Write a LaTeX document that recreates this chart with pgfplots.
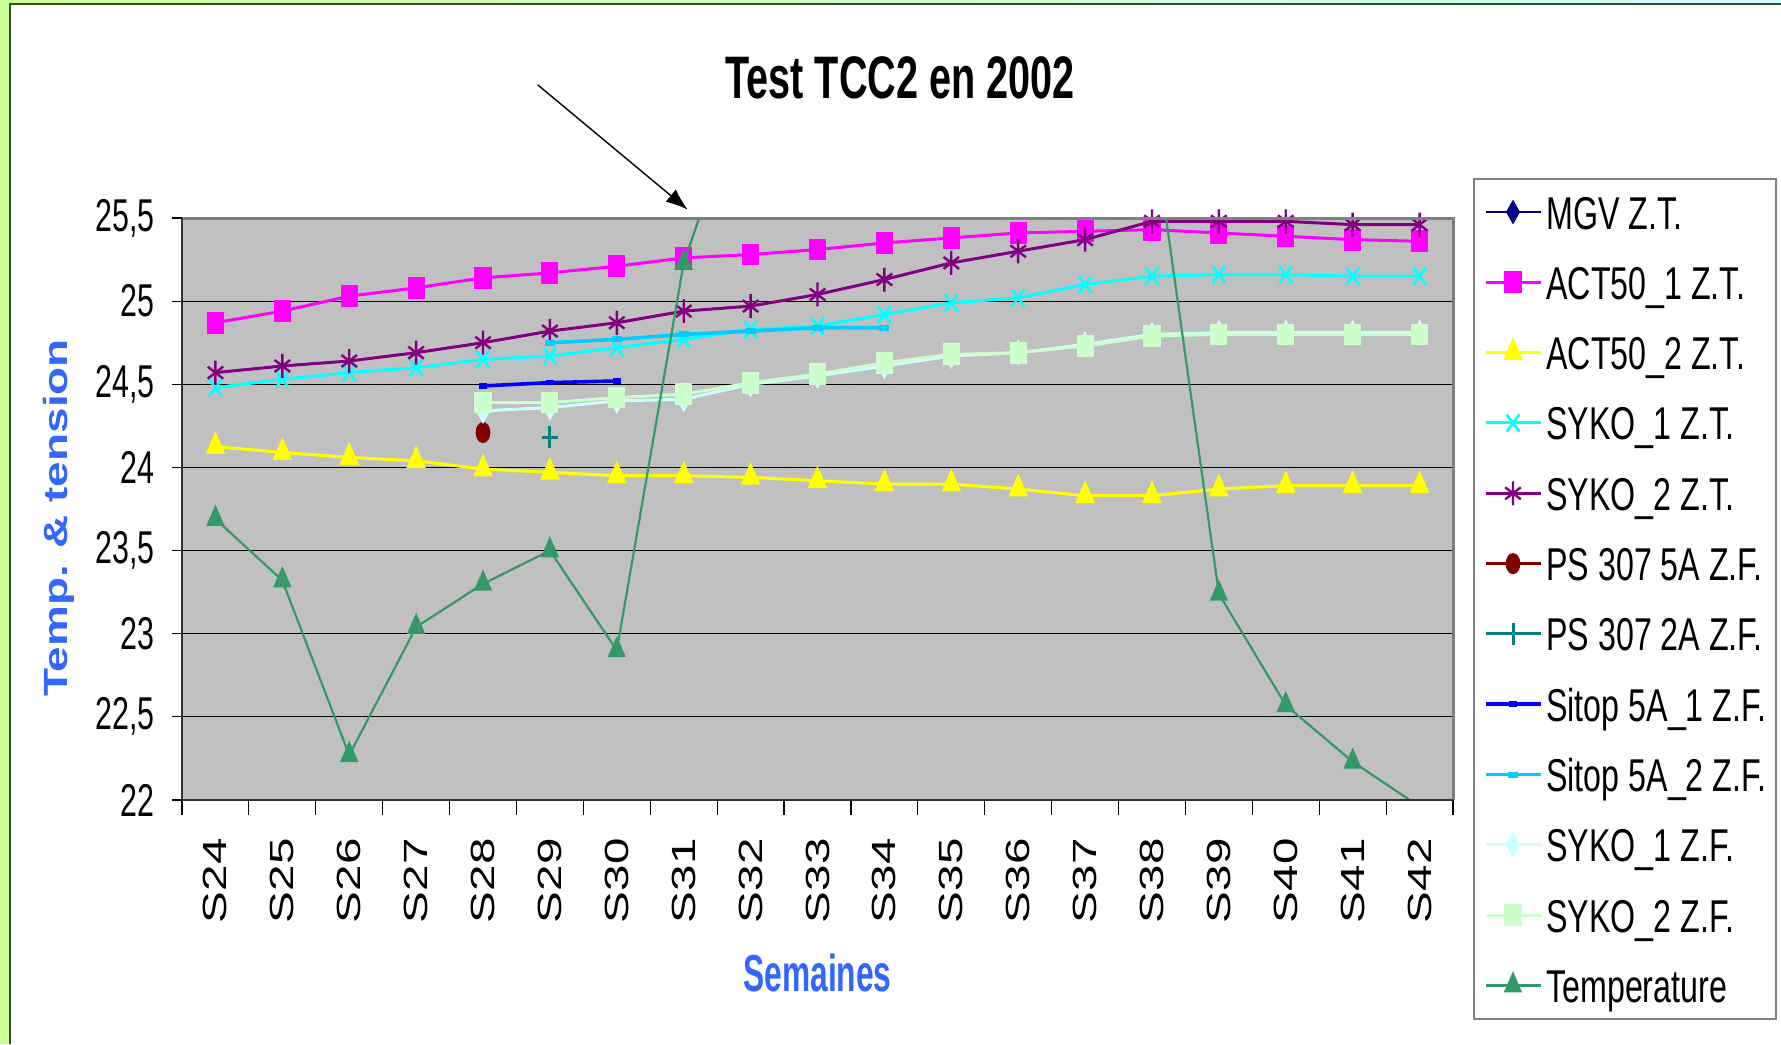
\documentclass[border=0pt]{standalone}
\usepackage{pgfplots}
\pgfplotsset{compat=1.18}
\usetikzlibrary{arrows.meta}
\usepackage{fontspec}
\setmainfont{Liberation Sans}
\newfontfamily\narrowfont[FakeStretch=0.66]{Liberation Sans}
\newfontfamily\legfont[FakeStretch=0.70]{Liberation Sans}
\newfontfamily\xlabfont[FakeStretch=0.61]{Liberation Sans}
\newfontfamily\widefont[FakeStretch=1.42]{Liberation Sans}
\newfontfamily\ylabfont[FakeStretch=1.37]{Liberation Sans}
\definecolor{bggray}{HTML}{C0C0C0}
\definecolor{framegray}{HTML}{808080}
\definecolor{labelblue}{HTML}{3366FF}
\definecolor{navyc}{HTML}{000080}
\definecolor{magc}{HTML}{FF00FF}
\definecolor{yelc}{HTML}{FFFF00}
\definecolor{cyanc}{HTML}{00FFFF}
\definecolor{purc}{HTML}{800080}
\definecolor{darkredc}{HTML}{800000}
\definecolor{tealc}{HTML}{008080}
\definecolor{bluec}{HTML}{0000FF}
\definecolor{skyc}{HTML}{00CCFF}
\definecolor{lcyanc}{HTML}{CCFFFF}
\definecolor{lgreenc}{HTML}{CCFFCC}
\definecolor{seagreenc}{HTML}{339966}
\definecolor{bordergreen}{HTML}{CCFF99}
\definecolor{bordercyan}{HTML}{CCFFFF}
\definecolor{bordline}{HTML}{3A4A2A}
\begin{document}
\begin{tikzpicture}
\useasboundingbox (-91pt,-122pt) rectangle (799.5pt,400pt);
\fill[white] (-91pt,-122pt) rectangle (799.5pt,400pt);
\fill[bordergreen] (-91pt,-122pt) rectangle (-86pt,400pt);
\shade[left color=bordergreen, right color=bordercyan] (-91pt,397.5pt) rectangle (799.5pt,400pt);
\fill[bordergreen] (-91pt,397.5pt) rectangle (-86pt,400pt);
\draw[line width=1pt, bordline] (-85.75pt,-122pt) -- (-85.75pt,397.75pt) -- (799.5pt,397.75pt);
\begin{axis}[
  at={(0pt,0pt)}, anchor=south west,
  scale only axis, width=635.5pt, height=291pt,
  xmin=-0.5, xmax=18.5, ymin=22, ymax=25.5,
  clip mode=individual,
  axis background/.style={fill=bggray},
  axis line style={draw=none},
  ytick={22,22.5,23,23.5,24,24.5,25,25.5},
  ymajorgrids, grid style={black, line width=0.6pt},
  tick align=outside, tick pos=left,
  major tick length=5pt, minor tick length=7.5pt,
  tick style={black, line width=0.6pt},
  xtick={0,...,18},
  xticklabels={S24,S25,S26,S27,S28,S29,S30,S31,S32,S33,S34,S35,S36,S37,S38,S39,S40,S41,S42},
  every major x tick/.append style={draw=none},
  minor xtick={-0.5,0.5,...,18.5},
  xticklabel style={rotate=90, anchor=east, inner sep=0pt, font=\widefont\fontsize{16.75}{17}\selectfont},
  xticklabel shift=14pt,
  yticklabel style={inner sep=0pt, font=\narrowfont\fontsize{23}{23}\selectfont},
  yticklabel shift=8.5pt,
  /pgf/number format/use comma,
  /pgf/number format/assume math mode=true,
  title={Test TCC2 en 2002},
  title style={at={(rel axis cs:0.565,1.22)}, anchor=center, inner sep=0pt, font=\narrowfont\bfseries\fontsize{30}{30}\selectfont},
  xlabel={Semaines},
  xlabel style={at={(rel axis cs:0.5,-0.297)}, anchor=center, inner sep=0pt, text=labelblue, font=\xlabfont\bfseries\fontsize{26}{26}\selectfont},
  ylabel={Temp. \& tension},
  ylabel style={at={(rel axis cs:-0.0968,0.4845)}, anchor=center, inner sep=0pt, rotate=0, text=labelblue, font=\ylabfont\bfseries\fontsize{16.75}{17}\selectfont},
  legend style={at={(rel axis cs:1.0155,1.0687)}, anchor=north west, draw=framegray, line width=1pt, fill=white,
    inner xsep=5pt, inner ysep=8pt, row sep=18.16pt, column sep=2pt,
    font=\legfont\fontsize{23}{23}\selectfont,
    nodes={inner sep=0pt, text height=17pt, text depth=0pt},
    cells={anchor=west}},
  legend image code/.code={\draw[mark repeat=2, mark phase=2] plot coordinates {(0pt,0pt) (13.75pt,0pt) (27.5pt,0pt)};},
]
\addlegendimage{navyc, line width=1.2pt, mark=diamond*, mark size=5pt, mark options={xscale=0.75}}
\addlegendentry{MGV Z.T.}
\addplot[magc, line width=1.5pt, mark=square*, mark size=4.7pt, mark options={xscale=0.75}] coordinates {
(0,24.87) (1,24.94) (2,25.03) (3,25.08) (4,25.14) (5,25.17) (6,25.21) (7,25.26) (8,25.28) (9,25.31)
(10,25.35) (11,25.38) (12,25.41) (13,25.42) (14,25.43) (15,25.41) (16,25.39) (17,25.37) (18,25.36)};
\addlegendentry{ACT50\_1 Z.T.}
\addplot[yelc, line width=1.5pt, mark=triangle*, mark size=5.8pt, mark options={xscale=0.75}] coordinates {
(0,24.125) (1,24.09) (2,24.06) (3,24.04) (4,23.99) (5,23.97) (6,23.95) (7,23.95) (8,23.94) (9,23.92)
(10,23.90) (11,23.90) (12,23.87) (13,23.83) (14,23.83) (15,23.87) (16,23.89) (17,23.89) (18,23.89)};
\addlegendentry{ACT50\_2 Z.T.}
\addplot[cyanc, line width=1.5pt, mark=x, mark size=6pt, mark options={xscale=0.75, line width=1.3pt}] coordinates {
(0,24.48) (1,24.53) (2,24.57) (3,24.60) (4,24.65) (5,24.67) (6,24.72) (7,24.77) (8,24.83) (9,24.85)
(10,24.92) (11,24.99) (12,25.02) (13,25.10) (14,25.15) (15,25.16) (16,25.16) (17,25.15) (18,25.15)};
\addlegendentry{SYKO\_1 Z.T.}
\addplot[purc, line width=1.5pt, mark=asterisk, mark size=6pt, mark options={xscale=0.75, line width=1.2pt}] coordinates {
(0,24.57) (1,24.61) (2,24.64) (3,24.69) (4,24.75) (5,24.82) (6,24.87) (7,24.94) (8,24.97) (9,25.04)
(10,25.13) (11,25.23) (12,25.30) (13,25.37) (14,25.48) (15,25.48) (16,25.48) (17,25.46) (18,25.46)};
\addlegendentry{SYKO\_2 Z.T.}
\addplot[darkredc, line width=1.5pt, mark=*, mark size=4.5pt, mark options={xscale=0.65}] coordinates {(4,24.21)};
\addlegendentry{PS 307 5A Z.F.}
\addplot[tealc, line width=1.5pt, mark=+, mark size=5.5pt, mark options={xscale=0.7}] coordinates {(5,24.18)};
\addlegendentry{PS 307 2A Z.F.}
\addplot[bluec, line width=1.8pt, mark=-, mark size=2pt, mark options={line width=2.8pt}] coordinates {
(4,24.49) (5,24.51) (6,24.52)};
\addlegendentry{Sitop 5A\_1 Z.F.}
\addplot[skyc, line width=1.8pt, mark=-, mark size=2.5pt, mark options={line width=3pt}] coordinates {
(5,24.75) (6,24.77) (7,24.80) (8,24.82) (9,24.84) (10,24.84)};
\addlegendentry{Sitop 5A\_2 Z.F.}
\addplot[lcyanc, line width=1.5pt, mark=diamond*, mark size=5pt, mark options={xscale=0.75}] coordinates {
(4,24.34) (5,24.36) (6,24.40) (7,24.41) (8,24.50) (9,24.55) (10,24.61) (11,24.67) (12,24.69) (13,24.74)
(14,24.80) (15,24.81) (16,24.81) (17,24.81) (18,24.81)};
\addlegendentry{SYKO\_1 Z.F.}
\addplot[lgreenc, line width=1.5pt, mark=square*, mark size=4.7pt, mark options={xscale=0.75}] coordinates {
(4,24.39) (5,24.39) (6,24.42) (7,24.44) (8,24.51) (9,24.56) (10,24.63) (11,24.68) (12,24.69) (13,24.73)
(14,24.79) (15,24.80) (16,24.80) (17,24.80) (18,24.80)};
\addlegendentry{SYKO\_2 Z.F.}
\addplot[seagreenc, line width=1.1pt, mark=triangle*, mark size=5.8pt, mark options={xscale=0.75}] coordinates {
(0,23.69) (1,23.32) (2,22.27) (3,23.04) (4,23.30) (5,23.50) (6,22.90) (7,25.23) (8,26.40) (9,26.80)
(10,27.00) (11,27.00) (12,26.80) (13,26.50) (14,26.10) (15,23.24) (16,22.57) (17,22.23) (18,21.96)};
\addlegendentry{Temperature}
\draw[framegray, line width=1.5pt] (rel axis cs:0,1) -- (rel axis cs:1,1) -- (rel axis cs:1,0);
\draw[black!80, line width=1pt] (rel axis cs:0,1) -- (rel axis cs:0,0) -- (rel axis cs:1,0);
\draw[-{Latex[length=11pt,width=8pt]}, line width=0.7pt] (axis cs:4.82,26.30) -- (axis cs:7.06,25.55);
\end{axis}
\end{tikzpicture}
\end{document}
